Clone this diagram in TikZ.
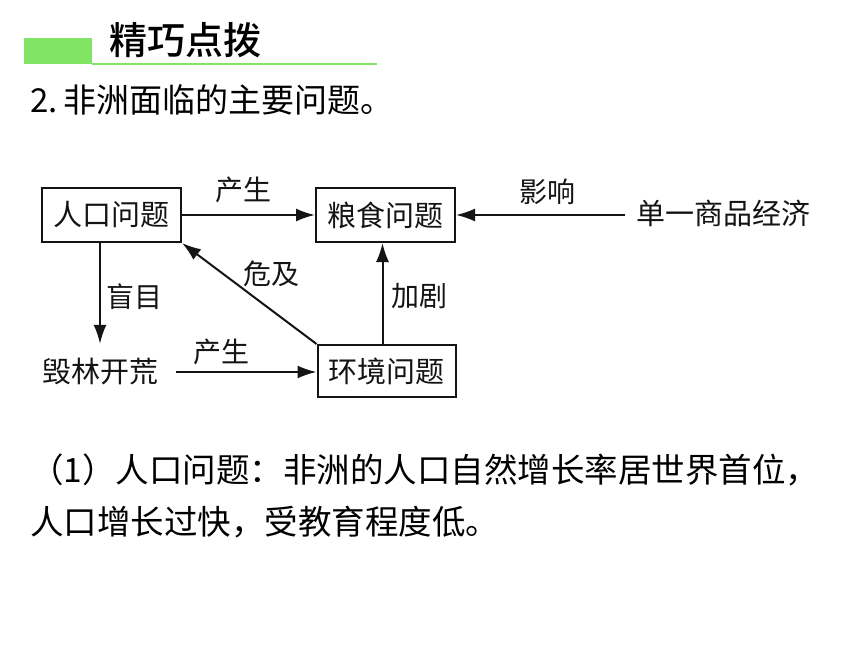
\documentclass[tikz,border=0pt]{standalone}
\usepackage{fontspec}
\newfontfamily\cjk{Noto Sans CJK SC}
\newfontfamily\cjkm{Noto Sans CJK SC Medium}
\usetikzlibrary{arrows.meta}
\definecolor{hdrgreen}{RGB}{130,228,100}
\definecolor{ink}{RGB}{20,20,20}
\tikzset{
  box/.style={draw=ink, line width=2pt, inner sep=0pt, minimum width=139pt, minimum height=54pt, font=\cjk\fontsize{29}{31}\selectfont, text=ink},
  plain/.style={inner sep=0pt, font=\cjk\fontsize{29}{31}\selectfont, text=ink},
  lbl/.style={inner sep=0pt, font=\cjk\fontsize{28}{30}\selectfont, text=ink},
  conn/.style={draw=ink, line width=2pt, -{Latex[length=19pt,width=13pt]}},
  body/.style={inner sep=0pt, anchor=west, font=\cjk\fontsize{33.5}{36}\selectfont, text=black}
}
\begin{document}
\begin{tikzpicture}[x=1pt,y=-1pt]
\useasboundingbox (0,0) rectangle (860,645);
\fill[white] (0,0) rectangle (860,645);
% header
\fill[hdrgreen] (24,38) rectangle (92,64);
\fill[hdrgreen] (92,62.5) rectangle (377,65);
\node[inner sep=0pt, font=\cjkm\fontsize{38}{40}\selectfont] (title) at (185,40) {精巧点拨};
\node[body, font=\cjk\fontsize{33}{35}\selectfont] (sub) at (30,100) {2.\,非洲面临的主要问题。};
% diagram
\node[box] (renkou) at (111.5,215) {人口问题};
\node[box] (liangshi) at (385.5,215) {粮食问题};
\node[box, minimum width=138pt, minimum height=52pt] (huanjing) at (386.5,371) {环境问题};
\node[plain, inner xsep=18pt, minimum height=56pt] (huilin) at (100,372) {毁林开荒};
\node[plain, inner xsep=11pt] (danyi) at (723.5,213) {单一商品经济};
\draw[conn] (renkou.east) -- (liangshi.west);
\draw[conn] (huilin.north |- renkou.south) -- (huilin.north);
\draw[conn] (huilin.east) -- (huilin.east -| huanjing.west);
\draw[conn] (huanjing.north west) -- (renkou.south east);
\draw[conn] ([xshift=-4pt]huanjing.north) -- ([xshift=-4pt]huanjing.north |- liangshi.south);
\draw[conn] (danyi.west |- liangshi.east) -- (liangshi.east);
\node[lbl] (l1) at (243,190) {产生};
\node[lbl] (l2) at (134,297) {盲目};
\node[lbl] (l3) at (221,352) {产生};
\node[lbl] (l4) at (271,274) {危及};
\node[lbl] (l5) at (419,296) {加剧};
\node[lbl] (l6) at (547,192) {影响};
% body text
\node[body] (p1) at (30,470) {（1）人口问题：非洲的人口自然增长率居世界首位，};
\node[body] (p2) at (30,522) {人口增长过快，受教育程度低。};
\end{tikzpicture}
\end{document}
